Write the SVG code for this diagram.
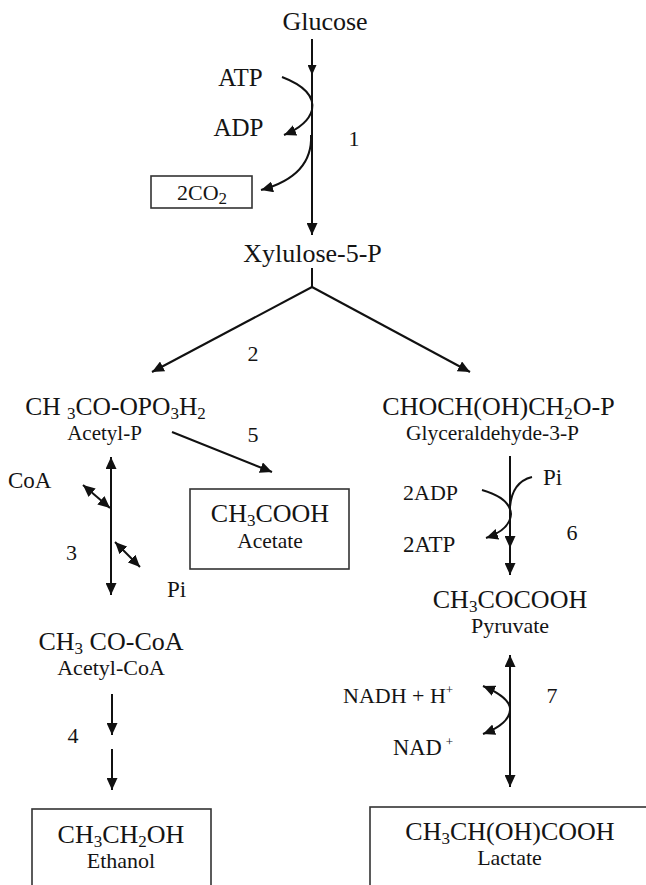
<svg xmlns="http://www.w3.org/2000/svg" width="646" height="885" viewBox="0 0 646 885">
<defs>
<style>
text{font-family:"Liberation Serif","Times New Roman",serif;fill:#141414;}
.big{font-size:26px;text-anchor:middle;}
.med{font-size:22px;text-anchor:middle;}
.lab{font-size:23px;}
.num{font-size:22px;text-anchor:middle;}
.s{font-size:17px;}
.sup{font-size:13px;}
.ln{stroke:#111;stroke-width:2;fill:none;}
.box{stroke:#333;stroke-width:1.6;fill:#fff;}
</style>
<marker id="ah" markerUnits="userSpaceOnUse" markerWidth="13" markerHeight="11" refX="12" refY="5.5" orient="auto-start-reverse" viewBox="0 0 13 11">
<path d="M0,0 L12,5.5 L0,11 z" fill="#111"/>
</marker>
<marker id="ahs" markerUnits="userSpaceOnUse" markerWidth="11" markerHeight="9" refX="10" refY="4.5" orient="auto" viewBox="0 0 11 9">
<path d="M0,0 L10,4.5 L0,9 z" fill="#111"/>
</marker>
</defs>
<rect width="646" height="885" fill="#fff"/>

<g id="connectors">
<line class="ln" x1="312" y1="39" x2="312" y2="75" marker-end="url(#ahs)"/>
<line class="ln" x1="312" y1="75" x2="312" y2="235" marker-end="url(#ah)"/>
<path class="ln" d="M282,77 Q316,90 312,110 Q308,125 284,135" marker-end="url(#ah)"/>
<path class="ln" d="M311,135 Q313,176 261,190" marker-end="url(#ah)"/>
<line class="ln" x1="312" y1="268" x2="312" y2="287"/>
<line class="ln" x1="312" y1="287" x2="152" y2="372" marker-end="url(#ah)"/>
<line class="ln" x1="312" y1="287" x2="470" y2="372" marker-end="url(#ah)"/>
<line class="ln" x1="172" y1="432" x2="272" y2="472" marker-end="url(#ah)"/>
<line class="ln" x1="111" y1="457" x2="111" y2="595" marker-start="url(#ah)" marker-end="url(#ah)"/>
<line class="ln" x1="83" y1="485" x2="110" y2="508" marker-start="url(#ah)" marker-end="url(#ah)"/>
<line class="ln" x1="115" y1="542" x2="140" y2="567" marker-start="url(#ah)" marker-end="url(#ah)"/>
<line class="ln" x1="112" y1="694" x2="112" y2="735" marker-end="url(#ah)"/>
<line class="ln" x1="112" y1="749" x2="112" y2="790" marker-end="url(#ah)"/>
<line class="ln" x1="510" y1="456" x2="510" y2="548" marker-end="url(#ah)"/>
<line class="ln" x1="510" y1="548" x2="510" y2="575" marker-end="url(#ah)"/>
<path class="ln" d="M532,477 Q512,482 510,507"/>
<path class="ln" d="M482,490 Q510,498 511,514 Q510,530 486,538" marker-end="url(#ah)"/>
<line class="ln" x1="510" y1="655" x2="510" y2="787" marker-start="url(#ah)" marker-end="url(#ah)"/>
<path class="ln" d="M483,686 Q511,698 510,710 Q509,724 483,734" marker-start="url(#ah)" marker-end="url(#ah)"/>
</g>

<g id="glucose"><text class="big" x="325" y="30">Glucose</text></g>
<g id="atp"><text class="lab" x="240.5" y="86" style="font-size:25px;text-anchor:middle">ATP</text></g>
<g id="adp"><text class="lab" x="238.5" y="136" style="font-size:25px;text-anchor:middle">ADP</text></g>
<g id="step1"><text class="num" x="354" y="146">1</text></g>
<g id="co2">
<rect class="box" x="151" y="176" width="101" height="32"/>
<text class="med" x="202" y="200">2CO<tspan class="s" dy="4">2</tspan></text>
</g>
<g id="xylulose"><text class="big" x="312.5" y="262">Xylulose-5-P</text></g>
<g id="step2"><text class="num" x="253" y="361">2</text></g>
<g id="acetylP">
<text class="big" x="115.5" y="415" style="font-size:25.5px">CH <tspan class="s" dy="4">3</tspan><tspan dy="-4">CO-OPO</tspan><tspan class="s" dy="4">3</tspan><tspan dy="-4">H</tspan><tspan class="s" dy="4">2</tspan></text>
<text class="med" x="104.5" y="440" style="font-size:21px">Acetyl-P</text>
</g>
<g id="g3p">
<text class="big" x="498.5" y="415">CHOCH(OH)CH<tspan class="s" dy="4">2</tspan><tspan dy="-4">O-P</tspan></text>
<text class="med" x="492.5" y="440" style="font-size:21.5px">Glyceraldehyde-3-P</text>
</g>
<g id="step5"><text class="num" x="253" y="442">5</text></g>
<g id="acetate">
<rect class="box" x="190" y="489" width="159" height="80"/>
<text class="big" x="270" y="522">CH<tspan class="s" dy="4">3</tspan><tspan dy="-4">COOH</tspan></text>
<text class="med" x="270" y="548" style="font-size:21.5px">Acetate</text>
</g>
<g id="coa"><text class="lab" x="8" y="488">CoA</text></g>
<g id="step3"><text class="num" x="71.5" y="560">3</text></g>
<g id="piLeft"><text class="lab" x="167" y="597">Pi</text></g>
<g id="acetylCoA">
<text class="big" x="111" y="650">CH<tspan class="s" dy="4">3</tspan><tspan dy="-4"> CO-CoA</tspan></text>
<text class="med" x="111" y="675">Acetyl-CoA</text>
</g>
<g id="step4"><text class="num" x="73" y="743">4</text></g>
<g id="ethanol">
<rect class="box" x="32" y="809" width="179" height="90"/>
<text class="big" x="121" y="843">CH<tspan class="s" dy="4">3</tspan><tspan dy="-4">CH</tspan><tspan class="s" dy="4">2</tspan><tspan dy="-4">OH</tspan></text>
<text class="med" x="121" y="868">Ethanol</text>
</g>
<g id="piRight"><text class="lab" x="543" y="485">Pi</text></g>
<g id="adp2"><text class="lab" x="403" y="500" style="font-size:22px">2ADP</text></g>
<g id="atp2"><text class="lab" x="403" y="552">2ATP</text></g>
<g id="step6"><text class="num" x="572" y="540">6</text></g>
<g id="pyruvate">
<text class="big" x="510" y="608">CH<tspan class="s" dy="4">3</tspan><tspan dy="-4">COCOOH</tspan></text>
<text class="med" x="510" y="633">Pyruvate</text>
</g>
<g id="nadh"><text class="lab" x="343" y="703" style="font-size:22px">NADH + H<tspan class="sup" dy="-9">+</tspan></text></g>
<g id="step7"><text class="num" x="552" y="703">7</text></g>
<g id="nad"><text class="lab" x="393" y="755" style="font-size:22.5px">NAD<tspan class="sup" dx="4" dy="-9">+</tspan></text></g>
<g id="lactate">
<rect class="box" x="370" y="807" width="290" height="90"/>
<text class="big" x="510" y="840">CH<tspan class="s" dy="4">3</tspan><tspan dy="-4">CH(OH)COOH</tspan></text>
<text class="med" x="509.5" y="865">Lactate</text>
</g>
</svg>
